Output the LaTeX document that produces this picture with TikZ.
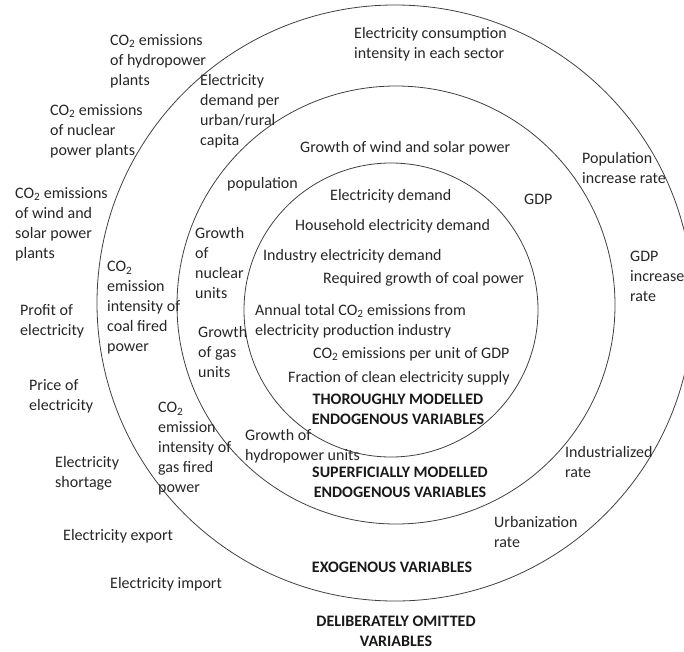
\documentclass[tikz,border=0pt]{standalone}
\usepackage{fontspec}
\setmainfont{Carlito}
\newcommand\COtwo{CO\textsubscript{2}}
\begin{document}
\begin{tikzpicture}[x=1pt,y=-1pt,
  ring/.style={draw=black!75, line width=0.8pt},
  lbl/.style={anchor=north west, inner sep=0pt, align=left,
    font=\fontsize{16}{20}\selectfont, text=black!85},
  head/.style={anchor=north, inner sep=0pt, align=center,
    font=\fontsize{16}{20}\selectfont\bfseries, text=black!90}]
\useasboundingbox (0,0) rectangle (684,651);
\clip (0,0) rectangle (684,651);

% the three layers of variables
\draw[ring] (395,303) circle[radius=298pt];
\draw[ring] (396,305) circle[radius=219pt];
\draw[ring] (391,310) circle[radius=147pt];

% thoroughly modelled endogenous variables
\node[lbl] (elecdemand) at (330,189) {Electricity demand};
\node[lbl] (household) at (295,219) {Household electricity demand};
\node[lbl] (industry) at (263,249) {Industry electricity demand};
\node[lbl] (coalgrowth) at (323,272) {Required growth of coal power};
\node[lbl] (annual) at (255,304) {Annual total \COtwo{} emissions from\\electricity production industry};
\node[lbl] (co2gdp) at (313,347) {\COtwo{} emissions per unit of GDP};
\node[lbl] (fraction) at (288,371) {Fraction of clean electricity supply};
\node[head] (thorough) at (398,394) {THOROUGHLY MODELLED\\ENDOGENOUS VARIABLES};

% superficially modelled endogenous variables
\node[lbl] (growthws) at (300,141) {Growth of wind and solar power};
\node[lbl] (demandcap) at (200,74) {Electricity\\demand per\\urban/rural\\capita};
\node[lbl] (population) at (227,177) {population};
\node[lbl] (growthnuc) at (195,227) {Growth\\of\\nuclear\\units};
\node[lbl] (growthgas) at (198,326) {Growth\\of gas\\units};
\node[lbl] (hydrogrowth) at (245,429) {Growth of\\hydropower units};
\node[lbl] (gdp) at (524,194) {GDP};
\node[head] (superficial) at (400,467) {SUPERFICIALLY MODELLED\\ENDOGENOUS VARIABLES};

% exogenous variables
\node[lbl] (consumption) at (354,27) {Electricity consumption\\intensity in each sector};
\node[lbl] (popincrease) at (582,152) {Population\\increase rate};
\node[lbl] (gdpincrease) at (630,251) {GDP\\increase\\rate};
\node[lbl] (industrialized) at (565,446) {Industrialized\\rate};
\node[lbl] (urbanization) at (494,516) {Urbanization\\rate};
\node[lbl] (coalint) at (107,261) {\COtwo\\emission\\intensity of\\coal fired\\power};
\node[lbl] (gasint) at (158,402) {\COtwo\\emission\\intensity of\\gas fired\\power};
\node[head] (exogenous) at (392,562) {EXOGENOUS VARIABLES};

% deliberately omitted variables
\node[lbl] (co2hydro) at (110,34) {\COtwo{} emissions\\of hydropower\\plants};
\node[lbl] (co2nuclear) at (50,104) {\COtwo{} emissions\\of nuclear\\power plants};
\node[lbl] (co2wind) at (15,187) {\COtwo{} emissions\\of wind and\\solar power\\plants};
\node[lbl] (profit) at (20,304) {Profit of\\electricity};
\node[lbl] (price) at (29,379) {Price of\\electricity};
\node[lbl] (shortage) at (55,456) {Electricity\\shortage};
\node[lbl] (export) at (63,529) {Electricity export};
\node[lbl] (import) at (110,577) {Electricity import};
\node[head] (omitted) at (396,616) {DELIBERATELY OMITTED\\VARIABLES};
\end{tikzpicture}
\end{document}
